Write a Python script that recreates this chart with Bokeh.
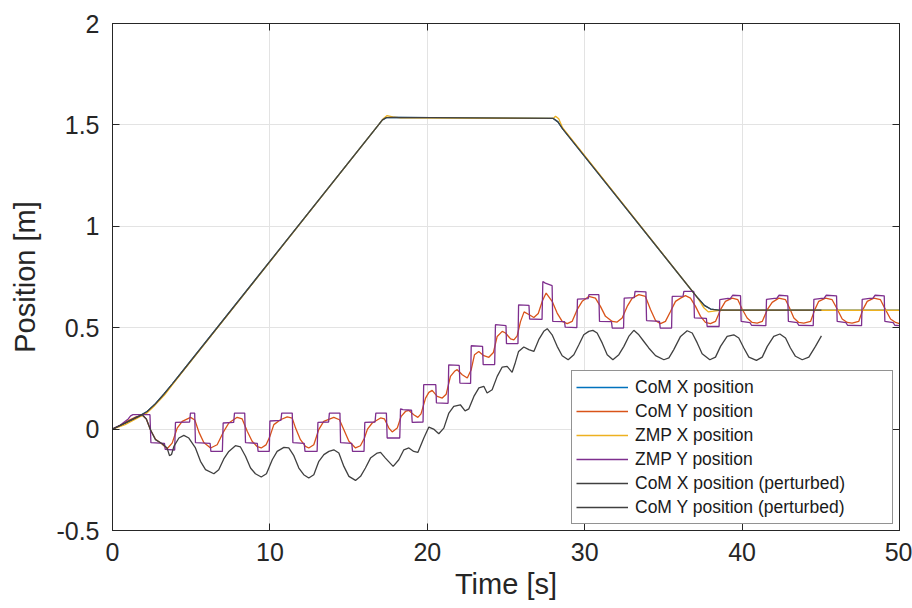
from bokeh.plotting import figure
from bokeh.models import LinearAxis, FixedTicker, Range1d
from bokeh.embed import file_html
from bokeh.resources import INLINE

# ---------------- data ----------------
x_ticks = [0, 10, 20, 30, 40, 50]
x_tick_labels = ["0", "10", "20", "30", "40", "50"]
y_ticks = [-0.5, 0, 0.5, 1, 1.5, 2]
y_tick_labels = ["-0.5", "0", "0.5", "1", "1.5", "2"]

series_names = ["CoM X position", "CoM Y position", "ZMP X position",
                "ZMP Y position", "CoM X position (perturbed)", "CoM Y position (perturbed)"]

com_x_t = [0, 0.83, 1.67, 2.2, 2.73, 3.26, 3.79, 4.32, 16.9, 17.15, 17.4, 17.8, 28.0, 28.3, 28.6, 37.2, 37.6, 38.0, 38.5, 50]
com_x_v = [0, 0.03, 0.063, 0.087, 0.125, 0.172, 0.222, 0.273, 1.5, 1.525, 1.536, 1.537, 1.532, 1.515, 1.48, 0.645, 0.61, 0.592, 0.587, 0.587]

zmp_x_t = [0, 0.8, 1.6, 2.2, 2.7, 3.3, 3.8, 4.32, 16.9, 17.2, 17.45, 17.8, 18.3, 28.0, 28.15, 28.35, 28.6, 37.2, 37.55, 37.85, 38.2, 38.6, 50]
zmp_x_v = [0, 0.022, 0.055, 0.08, 0.118, 0.168, 0.218, 0.27, 1.5, 1.53, 1.546, 1.54, 1.535, 1.532, 1.543, 1.53, 1.485, 0.645, 0.6, 0.578, 0.582, 0.586, 0.586]

pert_x_t = [0, 0.83, 1.67, 2.2, 2.73, 3.26, 3.79, 4.32, 16.9, 17.15, 17.4, 17.8, 28.0, 28.3, 28.6, 37.2, 37.6, 38.0, 38.5, 45.04]
pert_x_v = [0, 0.03, 0.063, 0.087, 0.125, 0.172, 0.222, 0.273, 1.5, 1.525, 1.536, 1.537, 1.532, 1.515, 1.48, 0.645, 0.61, 0.592, 0.587, 0.587]

com_y_pts = [
    (0, 0), (0.5, 0.018), (1.0, 0.042), (1.5, 0.06), (1.9, 0.068), (2.15, 0.05), (2.41, -0.003),
    (2.73, -0.05), (3.16, -0.075), (3.47, -0.097), (3.79, -0.069), (4.11, 0.005), (4.43, 0.038),
    (4.96, 0.058), (5.23, 0.045), (5.49, -0.015), (5.8, -0.066), (6.23, -0.093), (6.65, -0.077),
    (7.07, -0.011), (7.39, 0.03), (7.92, 0.058), (8.24, 0.05), (8.56, -0.011), (8.87, -0.06),
    (9.2, -0.087), (9.45, -0.093), (9.75, -0.078), (10.0, -0.036), (10.25, 0.022), (10.67, 0.046),
    (11.1, 0.06), (11.42, 0.054), (11.63, 0.005), (11.94, -0.052), (12.26, -0.085), (12.47, -0.093),
    (12.79, -0.077), (13.1, -0.003), (13.42, 0.038), (14.06, 0.058), (14.42, 0.046), (14.7, -0.003),
    (15.02, -0.06), (15.44, -0.093), (15.75, -0.082), (16.0, -0.045), (16.2, 0.0), (16.5, 0.03),
    (17.03, 0.055), (17.28, 0.05), (17.56, 0.005), (17.77, -0.014), (18.09, 0.005), (18.34, 0.063),
    (18.61, 0.087), (18.83, 0.092), (19.14, 0.071), (19.4, 0.058), (19.6, 0.075), (19.89, 0.153),
    (20.1, 0.181), (20.31, 0.191), (20.63, 0.161), (20.95, 0.153), (21.2, 0.172), (21.47, 0.26),
    (21.73, 0.285), (21.9, 0.293), (22.22, 0.268), (22.54, 0.252), (22.79, 0.293), (23.0, 0.367),
    (23.27, 0.383), (23.59, 0.362), (23.91, 0.354), (24.2, 0.378), (24.44, 0.457), (24.76, 0.482),
    (24.97, 0.474), (25.29, 0.445), (25.5, 0.44), (25.71, 0.46), (25.92, 0.53), (26.15, 0.578),
    (26.45, 0.565), (26.77, 0.55), (27.05, 0.57), (27.3, 0.63), (27.55, 0.671), (27.93, 0.63),
    (28.25, 0.572), (28.57, 0.531), (28.89, 0.52), (29.2, 0.531), (29.52, 0.589), (29.84, 0.63),
    (30.26, 0.654), (30.68, 0.646), (31.0, 0.605), (31.32, 0.556), (31.75, 0.531), (32.06, 0.528),
    (32.38, 0.548), (32.7, 0.605), (33.02, 0.646), (33.44, 0.663), (33.86, 0.654), (34.18, 0.59),
    (34.5, 0.535), (34.82, 0.52), (35.13, 0.531), (35.45, 0.58), (35.77, 0.63), (36.09, 0.646),
    (36.4, 0.658), (36.72, 0.646), (37.04, 0.605), (37.36, 0.556), (37.67, 0.526), (37.99, 0.52),
    (38.31, 0.531), (38.63, 0.589), (38.94, 0.63), (39.37, 0.646), (39.73, 0.638), (40.0, 0.592),
    (40.32, 0.548), (40.64, 0.526), (40.96, 0.523), (41.28, 0.531), (41.6, 0.589), (41.91, 0.625),
    (42.33, 0.646), (42.76, 0.638), (43.0, 0.6), (43.29, 0.548), (43.6, 0.526), (43.92, 0.523),
    (44.35, 0.531), (44.62, 0.589), (44.87, 0.63), (45.3, 0.646), (45.72, 0.638), (46.04, 0.592),
    (46.36, 0.543), (46.68, 0.526), (46.99, 0.523), (47.41, 0.531), (47.67, 0.589), (47.95, 0.63),
    (48.37, 0.646), (48.79, 0.638), (49.11, 0.589), (49.43, 0.543), (49.75, 0.526), (50.0, 0.52),
]

zmp_y_pts = [
    (0, 0), (0.5, 0.02), (1.0, 0.05), (1.15, 0.065), (1.3, 0.071), (2.38, 0.071),
    (2.44, -0.067), (3.3, -0.07), (3.35, -0.1), (3.95, -0.103),
    (4.0, 0.033), (4.9, 0.035), (4.95, 0.079), (5.22, 0.079),
    (5.27, -0.067), (6.2, -0.07), (6.25, -0.11), (6.98, -0.11),
    (7.03, 0.03), (7.7, 0.033), (7.75, 0.079), (8.4, 0.079),
    (8.45, -0.067), (9.2, -0.07), (9.25, -0.11), (9.96, -0.11),
    (10.0, 0.04), (10.7, 0.043), (10.75, 0.079), (11.42, 0.079),
    (11.46, -0.067), (12.18, -0.07), (12.23, -0.11), (13.0, -0.11),
    (13.05, 0.033), (13.73, 0.035), (13.78, 0.079), (14.45, 0.079),
    (14.49, -0.067), (15.2, -0.07), (15.25, -0.11), (15.98, -0.11),
    (16.03, 0.033), (16.68, 0.035), (16.73, 0.079), (17.4, 0.079),
    (17.45, -0.044), (18.25, -0.044),
    (18.3, 0.1), (18.45, 0.096), (19.0, 0.093),
    (19.04, 0.033), (19.73, 0.035),
    (19.77, 0.219), (20.54, 0.219),
    (20.58, 0.129), (21.32, 0.127),
    (21.36, 0.317), (22.03, 0.314),
    (22.07, 0.227), (22.75, 0.225),
    (22.79, 0.411), (23.51, 0.408),
    (23.55, 0.318), (24.28, 0.318),
    (24.33, 0.515), (25.0, 0.51),
    (25.03, 0.421), (25.76, 0.421),
    (25.8, 0.613), (26.46, 0.61),
    (26.5, 0.543), (27.29, 0.541),
    (27.34, 0.728), (27.5, 0.72), (27.93, 0.707),
    (27.97, 0.531), (28.72, 0.53), (28.76, 0.503), (29.5, 0.5),
    (29.54, 0.641), (30.22, 0.643), (30.27, 0.663), (30.9, 0.663),
    (30.94, 0.531), (31.7, 0.53), (31.75, 0.498), (32.47, 0.498),
    (32.51, 0.646), (33.15, 0.648), (33.2, 0.679), (33.89, 0.677),
    (33.93, 0.535), (34.75, 0.531), (34.8, 0.498), (35.52, 0.498),
    (35.56, 0.654), (36.25, 0.656), (36.3, 0.679), (36.93, 0.679),
    (36.97, 0.548), (37.73, 0.546), (37.78, 0.506), (38.54, 0.506),
    (38.58, 0.638), (39.1, 0.645), (39.25, 0.643), (39.4, 0.66), (39.9, 0.658),
    (39.94, 0.531), (40.5, 0.525), (40.6, 0.512), (41.51, 0.51),
    (41.55, 0.64), (42.05, 0.645), (42.2, 0.645), (42.35, 0.66), (42.9, 0.657),
    (42.94, 0.531), (43.5, 0.525), (43.6, 0.512), (44.52, 0.51),
    (44.56, 0.64), (45.05, 0.645), (45.2, 0.645), (45.35, 0.66), (46.0, 0.657),
    (46.04, 0.531), (46.6, 0.525), (46.7, 0.512), (47.59, 0.51),
    (47.63, 0.64), (48.1, 0.645), (48.3, 0.645), (48.45, 0.66), (49.03, 0.657),
    (49.07, 0.531), (49.6, 0.525), (49.7, 0.512), (50.0, 0.51),
]

pert_y_pts = [
    (0, 0), (0.8, 0.03), (1.5, 0.058), (1.89, 0.071), (2.15, 0.05), (2.41, -0.003), (2.73, -0.052),
    (3.16, -0.072), (3.47, -0.093), (3.62, -0.131), (3.75, -0.125), (3.9, -0.085), (4.22, -0.044),
    (4.53, -0.031), (4.85, -0.044), (5.27, -0.093), (5.59, -0.159), (5.91, -0.2), (6.44, -0.22),
    (6.75, -0.2), (7.07, -0.147), (7.39, -0.11), (7.81, -0.082), (8.13, -0.088), (8.45, -0.134),
    (8.77, -0.192), (9.08, -0.22), (9.45, -0.236), (9.78, -0.22), (10.15, -0.151), (10.46, -0.11),
    (10.89, -0.09), (11.2, -0.093), (11.52, -0.131), (11.84, -0.192), (12.15, -0.225), (12.47, -0.241),
    (12.79, -0.225), (13.11, -0.159), (13.43, -0.126), (13.75, -0.11), (14.06, -0.102), (14.38, -0.118),
    (14.7, -0.184), (15.02, -0.233), (15.44, -0.253), (15.76, -0.233), (16.07, -0.192), (16.39, -0.143),
    (16.82, -0.118), (17.03, -0.115), (17.34, -0.143), (17.83, -0.184), (18.19, -0.151), (18.51, -0.102),
    (18.83, -0.093), (19.14, -0.11), (19.4, -0.115), (19.78, -0.044), (20.1, 0.01), (20.4, 0.0),
    (20.73, -0.023), (21.05, 0.005), (21.37, 0.079), (21.68, 0.112), (22.1, 0.12), (22.4, 0.09),
    (22.64, 0.1), (22.96, 0.161), (23.28, 0.203), (23.59, 0.211), (23.8, 0.178), (24.12, 0.194),
    (24.44, 0.26), (24.76, 0.306), (25.07, 0.309), (25.39, 0.28), (25.6, 0.33), (25.8, 0.383),
    (26.13, 0.405), (26.45, 0.392), (26.77, 0.383), (27.08, 0.441), (27.4, 0.482), (27.62, 0.495),
    (27.93, 0.465), (28.25, 0.408), (28.57, 0.362), (28.95, 0.342), (29.31, 0.367), (29.63, 0.416),
    (29.94, 0.465), (30.26, 0.482), (30.52, 0.487), (30.79, 0.474), (31.11, 0.425), (31.43, 0.367),
    (31.79, 0.342), (32.17, 0.367), (32.49, 0.408), (32.8, 0.457), (33.12, 0.487), (33.44, 0.465),
    (33.76, 0.432), (34.07, 0.4), (34.5, 0.362), (35.03, 0.342), (35.35, 0.351), (35.66, 0.392),
    (36.09, 0.457), (36.51, 0.485), (36.83, 0.474), (37.15, 0.425), (37.46, 0.372), (37.95, 0.342),
    (38.31, 0.355), (38.63, 0.408), (39.05, 0.457), (39.47, 0.465), (39.79, 0.449), (40.11, 0.4),
    (40.43, 0.355), (40.91, 0.339), (41.28, 0.355), (41.6, 0.408), (42.01, 0.457), (42.4, 0.469),
    (42.76, 0.449), (43.07, 0.4), (43.39, 0.359), (43.82, 0.342), (44.24, 0.355), (44.66, 0.408),
    (45.04, 0.46),
]

com_y_t = [a for a, b in com_y_pts]
com_y_v = [b for a, b in com_y_pts]
zmp_y_t = [a for a, b in zmp_y_pts]
zmp_y_v = [b for a, b in zmp_y_pts]
pert_y_t = [a for a, b in pert_y_pts]
pert_y_v = [b for a, b in pert_y_pts]

colors = ["#0072BD", "#D95319", "#EDB120", "#7E2F8E", "#404040", "#404040"]

# ---------------- figure ----------------
AX = "#262626"
FONT = "Liberation Sans"

p = figure(width=912, height=608, x_range=Range1d(0, 50), y_range=Range1d(-0.5, 2),
           output_backend="svg", toolbar_location=None,
           min_border_left=112, min_border_right=13, min_border_top=23, min_border_bottom=78)
p.background_fill_color = "white"
p.border_fill_color = "white"
p.outline_line_color = AX
p.outline_line_width = 1

lw = 1.3
p.line(com_x_t, com_x_v, color=colors[0], line_width=lw, legend_label=series_names[0])
p.line(com_y_t, com_y_v, color=colors[1], line_width=lw, legend_label=series_names[1])
p.line(zmp_x_t, zmp_x_v, color=colors[2], line_width=lw, legend_label=series_names[2])
p.line(zmp_y_t, zmp_y_v, color=colors[3], line_width=lw, legend_label=series_names[3])
p.line(pert_x_t, pert_x_v, color=colors[4], line_width=lw, legend_label=series_names[4])
p.line(pert_y_t, pert_y_v, color=colors[5], line_width=lw, legend_label=series_names[5])

def style_axis(ax, ticks, labels, show_labels=True):
    ax.ticker = FixedTicker(ticks=ticks)
    ax.major_tick_in = 7
    ax.major_tick_out = 0
    ax.minor_tick_line_color = None
    ax.major_tick_line_color = AX
    ax.axis_line_color = AX
    ax.major_label_text_color = AX
    ax.major_label_text_font = FONT
    ax.major_label_text_font_size = "25px"
    if show_labels:
        ax.major_label_overrides = {t: l for t, l in zip(ticks, labels)}
    else:
        ax.major_label_overrides = {t: "" for t in ticks}
        ax.major_label_text_font_size = "0px"
        ax.major_label_standoff = 0

xa = p.xaxis[0]
ya = p.yaxis[0]
style_axis(xa, x_ticks, x_tick_labels)
style_axis(ya, y_ticks, y_tick_labels)
xa.major_label_standoff = 12
ya.major_label_standoff = 13
xa.axis_label = "Time [s]"
ya.axis_label = "Position [m]"
for ax in (xa, ya):
    ax.axis_label_text_font = FONT
    ax.axis_label_text_font_size = "29px"
    ax.axis_label_text_font_style = "normal"
    ax.axis_label_text_color = AX
xa.axis_label_standoff = 4
ya.axis_label_standoff = 12

ra = LinearAxis()
style_axis(ra, y_ticks, y_tick_labels, show_labels=False)
p.add_layout(ra, "right")
ta = LinearAxis()
style_axis(ta, x_ticks, x_tick_labels, show_labels=False)
p.add_layout(ta, "above")

p.xgrid.ticker = FixedTicker(ticks=x_ticks)
p.ygrid.ticker = FixedTicker(ticks=y_ticks)
p.xgrid.grid_line_color = "#e3e3e3"
p.ygrid.grid_line_color = "#e3e3e3"

lg = p.legend[0]
lg.location = "bottom_right"
lg.margin = 6
lg.padding = 4
lg.spacing = 0
lg.label_height = 24
lg.glyph_height = 24
lg.glyph_width = 52
lg.label_standoff = 7
lg.label_width = 253
lg.label_text_font = FONT
lg.label_text_font_size = "17.5px"
lg.label_text_color = "#1a1a1a"
lg.border_line_color = AX
lg.border_line_width = 1
lg.background_fill_color = "white"
lg.background_fill_alpha = 1

open("out.html", "w").write(file_html(p, INLINE))
